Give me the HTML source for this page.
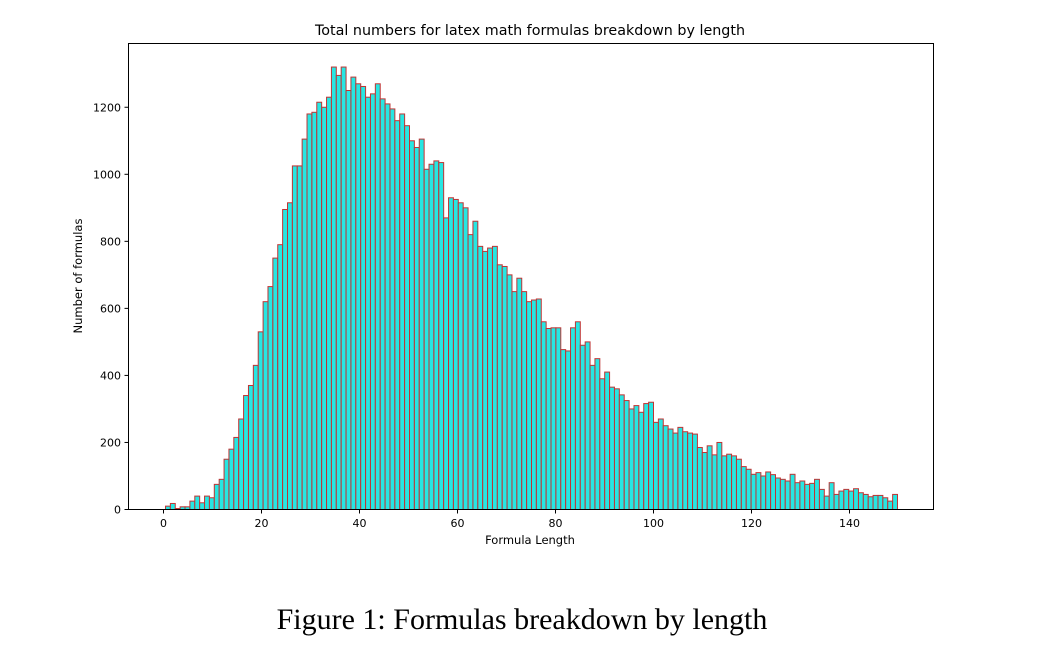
<!DOCTYPE html>
<html><head><meta charset="utf-8"><style>
html,body{margin:0;padding:0;background:#fff;}
svg{display:block;}
</style></head><body>
<svg id="s" width="1044" height="646" xmlns="http://www.w3.org/2000/svg" font-family="'DejaVu Sans','Liberation Sans',sans-serif">
<g id="bars"></g>
<rect x="128.5" y="43.5" width="805" height="466" fill="none" stroke="#000" stroke-width="1"/>
<text x="530" y="35" font-size="14.3" text-anchor="middle">Total numbers for latex math formulas breakdown by length</text>
<text x="530" y="544" font-size="11.5" text-anchor="middle">Formula Length</text>
<text transform="translate(82,276) rotate(-90)" font-size="11.5" text-anchor="middle">Number of formulas</text>
<g id="ticks" font-size="11"></g>
<text x="522" y="629" font-size="30" text-anchor="middle" font-family="'Liberation Serif',serif">Figure 1: Formulas breakdown by length</text>
</svg>
<script>
var v=[10,18,3,8,8,25,40,20,40,35,75,90,150,180,215,270,340,370,430,530,620,665,750,790,895,915,1025,1025,1105,1180,1185,1215,1200,1230,1320,1295,1320,1250,1290,1270,1262,1230,1240,1270,1225,1210,1195,1160,1180,1145,1100,1080,1105,1015,1030,1040,1035,870,930,925,915,900,820,860,785,770,780,785,730,725,700,650,690,650,620,625,628,560,540,542,542,477,473,542,560,490,500,430,450,390,410,365,360,342,325,300,310,290,316,320,260,270,250,240,228,245,232,228,225,185,170,190,163,200,160,165,160,150,128,120,105,110,100,112,104,94,90,85,105,80,85,75,78,90,60,40,80,45,55,60,55,62,50,45,38,42,42,35,25,45];
var ns="http://www.w3.org/2000/svg",g=document.getElementById("bars"),x0=163.5,sx=4.9,y0=509.5,sy=0.3352;
var w=(897.5-165.5)/150, st=165.5;
for(var i=0;i<v.length;i++){if(!v[i])continue;var r=document.createElementNS(ns,"rect");
r.setAttribute("x",st+i*w);r.setAttribute("width",w);r.setAttribute("y",y0-v[i]*sy);r.setAttribute("height",v[i]*sy);
r.setAttribute("fill","#27e6e2");r.setAttribute("stroke","#c03434");r.setAttribute("stroke-width","1");g.appendChild(r);}
var t=document.getElementById("ticks"),h="";
for(var k=0;k<=140;k+=20){var x=x0+k*sx;h+='<line x1="'+x+'" x2="'+x+'" y1="509.5" y2="513.5" stroke="#000"/><text x="'+x+'" y="527" text-anchor="middle">'+k+'</text>';}
for(var k=0;k<=1200;k+=200){var y=y0-k*sy;h+='<line x1="124.5" x2="128.5" y1="'+y+'" y2="'+y+'" stroke="#000"/><text x="121" y="'+(y+4)+'" text-anchor="end">'+k+'</text>';}
t.innerHTML=h;
</script>
</body></html>
